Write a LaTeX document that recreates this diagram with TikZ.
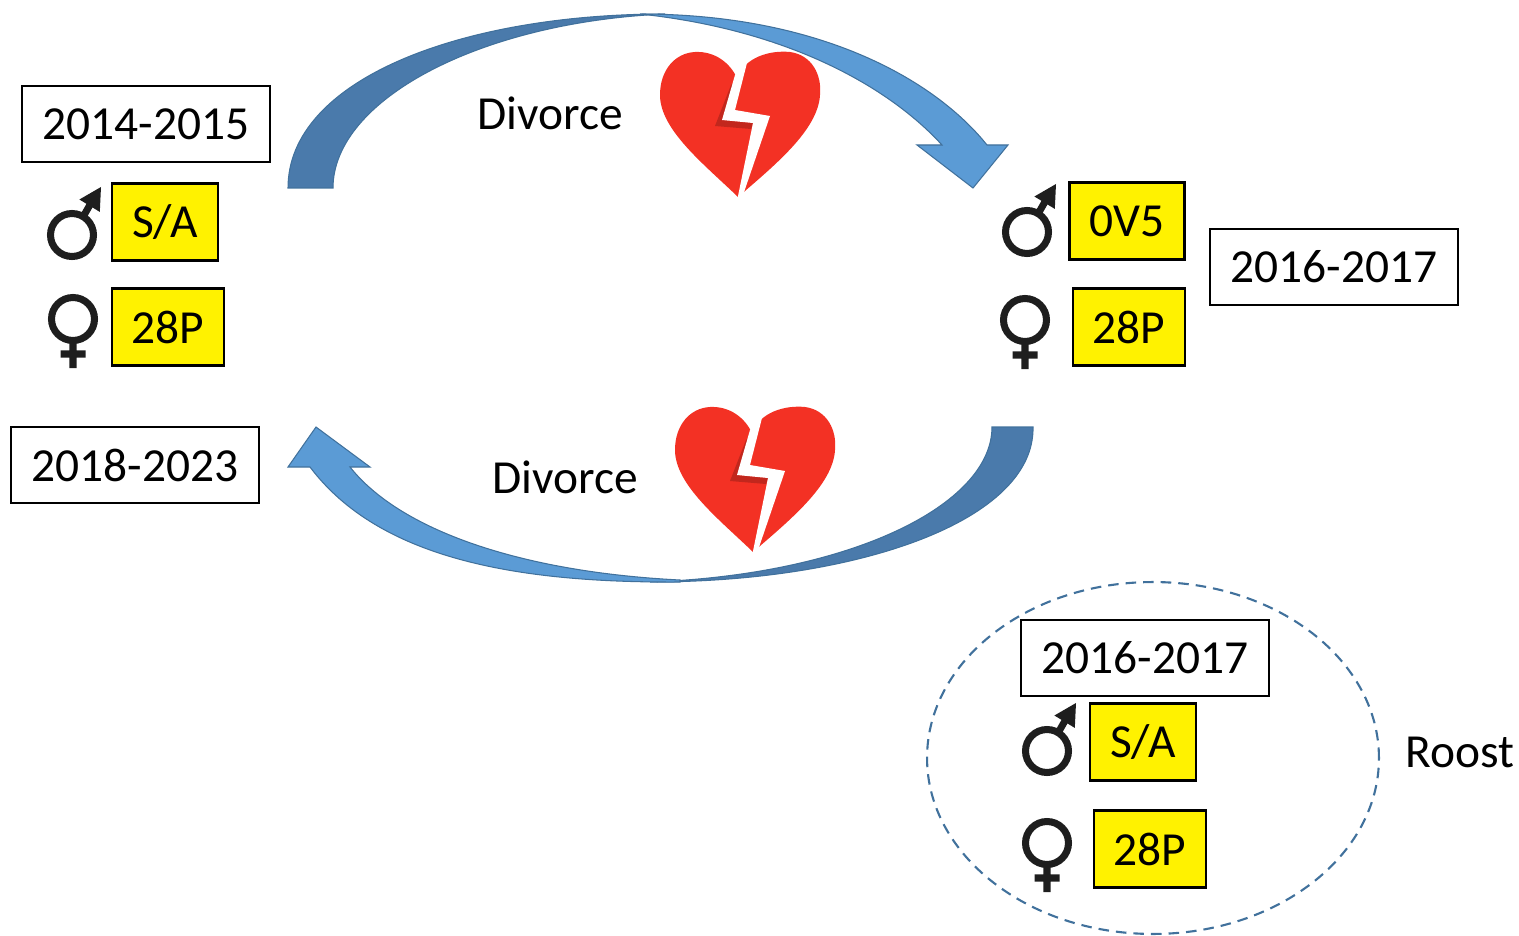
\documentclass[tikz,border=0pt]{standalone}
\usepackage{fontspec}
\setmainfont{Carlito}
\usepackage{tikz}
\usepackage{xcolor}
\definecolor{arrdark}{HTML}{4A7AAB}
\definecolor{arrlight}{HTML}{5B9BD5}
\definecolor{arredge}{HTML}{41719C}
\definecolor{heartred}{HTML}{F33124}
\definecolor{symgray}{HTML}{1E1E1E}

\begin{document}
\begin{tikzpicture}[x=0.02cm,y=-0.02cm]%
  \tikzstyle{every node}=[font=\fontsize{27}{32}\selectfont]
  \tikzstyle{yearn}=[rectangle,draw=black,line width=1.2pt,inner xsep=0.42cm,minimum height=1.52cm]
  \tikzstyle{tagn}=[rectangle,draw=black,fill=yellow,line width=1.2pt,inner xsep=0.4cm,minimum height=1.54cm]
  \tikzstyle{band}=[draw=arredge,line width=0.6pt]
  \tikzset{
    male/.pic={
      \draw[symgray,line width=4pt] (0,0) circle (0.43cm) (11,-18) -- (19,-32);
      \fill[symgray] (29,-48) -- (27.8,-23.1) -- (7.4,-35.5) -- cycle;},
    female/.pic={
      \draw[symgray,line width=4pt] (0,0) circle (0.43cm) (0,21) -- (0,49) (-12.5,35) -- (12.5,35);},
    brokenheart/.pic={
      \fill[heartred] (-3,-47) .. controls (5,-68) and (30,-75) .. (50,-73)
        .. controls (72,-70) and (82,-50) .. (80,-30) .. controls (78,5) and (35,40) .. (-2,72)
        .. controls (-35,40) and (-80,5) .. (-80,-30) .. controls (-80,-55) and (-65,-72) .. (-45,-73)
        .. controls (-25,-74) and (-10,-62) .. (-3,-47) -- cycle;
      \fill[heartred!80!black] (-3,-45) -- (-18,-5) -- (13,-2) -- (11,4) -- (-25,1) -- (-9,-40) -- cycle;
      \fill[white] (-5,-50) -- (-18,-5) -- (13,-2) -- (-3,76) -- (1,76) -- (30,-9) -- (-5,-15) -- (8,-66) -- cycle;}
  }
  \useasboundingbox (0,0) rectangle (1519,936);

  % upper arrow
  \filldraw[band,fill=arrdark] (288,188) .. controls (288,80) and (460,14) .. (665,14)
    .. controls (480,22) and (333,100) .. (333,188) -- cycle;
  \filldraw[band,fill=arrlight] (640,14) .. controls (820,14) and (935,80) .. (987,145)
    -- (1008,145) -- (973,188) -- (917,145) -- (942,145) .. controls (890,88) and (790,30) .. (640,14) -- cycle;
  % lower arrow
  \filldraw[band,fill=arrdark] (1033,427) .. controls (1035,520) and (860,582) .. (650,582)
    .. controls (850,575) and (992,505) .. (992,427) -- cycle;
  \filldraw[band,fill=arrlight] (680,582) .. controls (520,583) and (380,560) .. (310,467)
    -- (288,467) -- (316,427) -- (370,467) -- (350,467) .. controls (400,530) and (520,572) .. (680,580) -- cycle;

  \pic at (740,125) {brokenheart};
  \pic at (755,480) {brokenheart};

  \node(y1)[yearn] at (146,124) {2014-2015};
  \node(m1)[tagn] at (165,222) {S/A};
  \node(f1)[tagn] at (168,327) {28P};
  \pic at (72,235) {male};
  \pic at (73,319) {female};

  \node(y2)[yearn] at (1334,267) {2016-2017};
  \node(m2)[tagn] at (1127,221) {0V5};
  \node(f2)[tagn] at (1129,327) {28P};
  \pic at (1027,232) {male};
  \pic at (1025,320) {female};

  \node(y3)[yearn] at (135,465) {2018-2023};
  \node(d1) at (550,113) {Divorce};
  \node(d2) at (565,477) {Divorce};

  % roost
  \draw[arredge,line width=1.2pt,dash pattern=on 6pt off 4pt] (1153,758) ellipse [x radius=4.52cm,y radius=3.52cm];
  \node(y4)[yearn] at (1145,658) {2016-2017};
  \node(m4)[tagn] at (1143,742) {S/A};
  \node(f4)[tagn] at (1150,849) {28P};
  \pic at (1047,751) {male};
  \pic at (1047,843) {female};
  \node(r) at (1460,752) {Roost};
\end{tikzpicture}
\end{document}
